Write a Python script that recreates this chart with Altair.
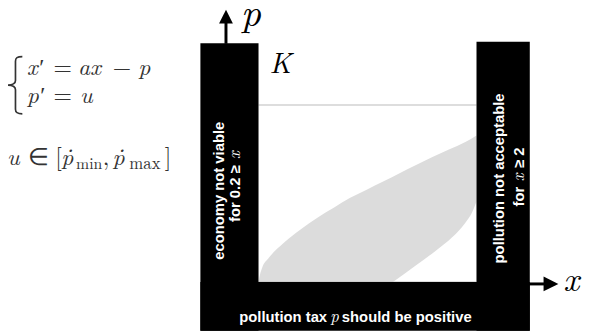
import altair as alt
import pandas as pd

# ---------------- values ----------------
X_MIN = 0.2      # economy not viable below this x
X_MAX = 2.0      # pollution not acceptable above this x
P_MIN = 0.0      # pollution tax must be positive
K_LEVEL = 1.0    # level of the line labelled K

region_name = ["economy not viable", "tax should be positive", "pollution not acceptable"]
region_x0 = [-0.28, -0.28, 2.0]
region_x1 = [0.2, 2.44, 2.44]
region_p0 = [-0.276, -0.276, -0.276]
region_p1 = [1.348, 0.0, 1.357]

kernel_upper_x = [0.2, 0.211, 0.233, 0.279, 0.414, 0.55, 0.686, 0.821, 0.957,
                  1.093, 1.229, 1.365, 1.501, 1.636, 1.772, 1.908, 2.0]
kernel_upper_p = [0.0, 0.038, 0.086, 0.131, 0.224, 0.298, 0.363, 0.419, 0.475,
                  0.521, 0.567, 0.614, 0.660, 0.706, 0.748, 0.790, 0.827]
kernel_lower_x = [1.31, 1.501, 1.664, 1.799, 1.908, 1.962, 2.0]
kernel_lower_p = [0.0, 0.094, 0.177, 0.252, 0.335, 0.391, 0.454]

# ---------------- layout ----------------
W, H = 585, 327
OX, OY = 8, 8                      # page margin
PX_XMIN, PX_XMAX = 262.0, 483.0    # page pixels of X_MIN / X_MAX
PY_P0, PY_K = 283.5, 104.0         # page pixels of p = 0 / p = K
kx = (PX_XMAX - PX_XMIN) / (X_MAX - X_MIN)
ky = (PY_P0 - PY_K) / (K_LEVEL - P_MIN)
xdom = [X_MIN + (OX - PX_XMIN) / kx, X_MIN + (OX + W - PX_XMIN) / kx]
ydom = [P_MIN + (PY_P0 - (OY + H)) / ky, P_MIN + (PY_P0 - OY) / ky]
xs = alt.Scale(domain=xdom, nice=False, zero=False)
ys = alt.Scale(domain=ydom, nice=False, zero=False)

regions = pd.DataFrame({"name": region_name, "x0": region_x0, "x1": region_x1,
                        "p0": region_p0, "p1": region_p1})
upper = pd.DataFrame({"x": kernel_upper_x, "p": kernel_upper_p,
                      "base": [P_MIN] * len(kernel_upper_x)})
lower = pd.DataFrame({"x": kernel_lower_x, "p": kernel_lower_p,
                      "base": [P_MIN] * len(kernel_lower_x)})
levels = pd.DataFrame({"x0": [X_MIN, X_MIN], "x1": [X_MAX, X_MAX],
                       "p": [K_LEVEL, P_MIN], "c": ["K", "zero"]})
one = pd.DataFrame({"k": [0]})

MATHF = "Latin Modern Roman"
SANS = "Liberation Sans"
MATH = "#333333"


def T(text, px, py, size, font=SANS, weight="normal", style="normal",
      color="black", align="left", angle=0, baseline="alphabetic"):
    return alt.Chart(one).mark_text(
        text=text, font=font, fontSize=size, fontWeight=weight, fontStyle=style,
        color=color, align=align, angle=angle, baseline=baseline
    ).encode(x=alt.value(px - OX), y=alt.value(py - OY))


kernel = alt.Chart(upper).mark_area(color="#dcdcdc", orient="vertical",
                                    interpolate="monotone").encode(
    x=alt.X("x:Q", scale=xs, axis=None),
    y=alt.Y("p:Q", scale=ys, axis=None),
    y2="base:Q")
cut = alt.Chart(lower).mark_area(color="white", orient="vertical",
                                 interpolate="monotone").encode(
    x=alt.X("x:Q", scale=xs, axis=None),
    y=alt.Y("p:Q", scale=ys, axis=None),
    y2="base:Q")
lines = alt.Chart(levels).mark_rule().encode(
    x=alt.X("x0:Q", scale=xs, axis=None), x2="x1:Q",
    y=alt.Y("p:Q", scale=ys, axis=None),
    color=alt.Color("c:N", scale=alt.Scale(domain=["K", "zero"],
                                           range=["#dddddd", "#bdbdbd"]), legend=None),
    strokeWidth=alt.StrokeWidth("c:N", scale=alt.Scale(domain=["K", "zero"],
                                                       range=[2, 1.2]), legend=None))
bars = alt.Chart(regions).mark_rect(color="black").encode(
    x=alt.X("x0:Q", scale=xs, axis=None), x2="x1:Q",
    y=alt.Y("p0:Q", scale=ys, axis=None), y2="p1:Q")

# arrows and brace
p_shaft = alt.Chart(one).mark_rule(color="black", strokeWidth=3).encode(
    x=alt.value(229 - OX), y=alt.value(20 - OY), y2=alt.value(42 - OY))
p_head = alt.Chart(one).mark_point(shape="M0,-1L1,1L-1,1Z", filled=True, opacity=1,
                                   color="black", size=196, strokeWidth=0).encode(
    x=alt.value(229 - OX), y=alt.value(14.5 - OY))
x_shaft = alt.Chart(one).mark_rule(color="black", strokeWidth=3).encode(
    x=alt.value(536 - OX), x2=alt.value(554 - OX), y=alt.value(285.5 - OY))
x_head = alt.Chart(one).mark_point(shape="M1,0L-1,-1L-1,1Z", filled=True, opacity=1,
                                   color="black", size=225, strokeWidth=0).encode(
    x=alt.value(558.5 - OX), y=alt.value(285.5 - OY))
brace = alt.Chart(one).mark_point(
    shape="M0.26,-1C0.08,-1,0.02,-0.96,0.02,-0.84L0.02,-0.16C0.02,-0.06,-0.04,-0.01,-0.24,0"
          "C-0.04,0.01,0.02,0.06,0.02,0.16L0.02,0.84C0.02,0.96,0.08,1,0.26,1",
    filled=False, opacity=1, color=MATH, size=3364, strokeWidth=1.7).encode(
    x=alt.value(15 - OX), y=alt.value(84 - OY))

texts = [
    # axis labels
    T("p", 244, 24, 40, font=MATHF, style="italic"),
    T("x", 571, 293, 35, font=MATHF, style="italic"),
    T("K", 273, 72, 29, font=MATHF, style="italic"),
    # system of equations
    T("x′", 27, 74, 24, font=MATHF, style="italic", color=MATH),
    T("=", 63.5, 74, 24, font=MATHF, color=MATH, align="center"),
    T("ax", 79, 74, 24, font=MATHF, style="italic", color=MATH),
    T("−", 123.5, 74, 24, font=MATHF, color=MATH, align="center"),
    T("p", 140, 74, 24, font=MATHF, style="italic", color=MATH),
    T("p′", 27, 102, 24, font=MATHF, style="italic", color=MATH),
    T("=", 63.5, 102, 24, font=MATHF, color=MATH, align="center"),
    T("u", 81, 102, 24, font=MATHF, style="italic", color=MATH),
    T("u", 7, 165, 24, font=MATHF, style="italic", color=MATH),
    T("∈", 38.5, 165, 24, font=MATHF, color=MATH, align="center"),
    T("[", 56, 165, 24, font=MATHF, color=MATH),
    T("ṗ", 62, 165, 24, font=MATHF, style="italic", color=MATH),
    T("min", 77, 169, 16, font=MATHF, color=MATH),
    T(",", 104, 165, 24, font=MATHF, color=MATH),
    T("ṗ", 114, 165, 24, font=MATHF, style="italic", color=MATH),
    T("max", 131, 169, 17, font=MATHF, color=MATH),
    T("]", 167, 165, 24, font=MATHF, color=MATH),
    # left bar
    T("economy not viable", 227, 191, 15, weight="bold", color="white",
      align="center", angle=270),
    T("for  0.2 ≥", 243, 194, 15, weight="bold", color="white",
      align="center", angle=270),
    T("x", 243, 155, 17, font=MATHF, style="italic", color="white",
      align="center", angle=270),
    # right bar
    T("pollution not acceptable", 511, 178.5, 15, weight="bold", color="white",
      align="center", angle=270),
    T("for", 531, 197, 15, weight="bold", color="white", align="center", angle=270),
    T("x", 531, 177.5, 17, font=MATHF, style="italic", color="white",
      align="center", angle=270),
    T("≥ 2", 531, 157.5, 15, weight="bold", color="white", align="center", angle=270),
    # bottom bar
    T("pollution tax", 331.5, 324, 15, weight="bold", color="white", align="right"),
    T("p", 339, 324, 17, font=MATHF, style="italic", color="white", align="center"),
    T("should be positive", 346.5, 324, 15, weight="bold", color="white"),
]

chart = alt.layer(kernel, cut, lines, bars, p_shaft, p_head, x_shaft, x_head, brace,
                  *texts).properties(
    width=W, height=H, padding=0,
    autosize=alt.AutoSizeParams(type="none"),
    background="white"
).configure_view(stroke=None)

chart.save("out.html", embed_options={"renderer": "svg", "actions": False})
